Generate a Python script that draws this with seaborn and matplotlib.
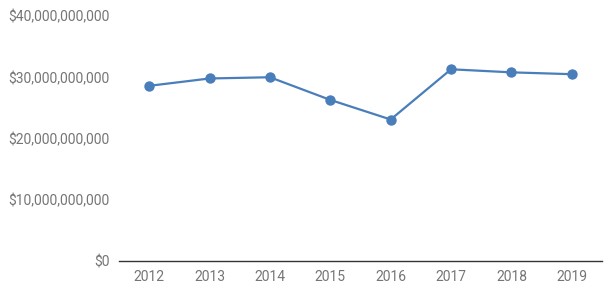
import matplotlib
matplotlib.use("Agg")
import matplotlib.pyplot as plt
import matplotlib.ticker as mticker
import seaborn as sns
import pandas as pd

years = ["2012", "2013", "2014", "2015", "2016", "2017", "2018", "2019"]
values = [28.6e9, 29.8e9, 30.0e9, 26.3e9, 23.1e9, 31.3e9, 30.8e9, 30.5e9]
y_ticks = [0, 10e9, 20e9, 30e9, 40e9]

sns.set_style("white")
plt.rcParams["font.family"] = ["Roboto", "DejaVu Sans"]

df = pd.DataFrame({"year": years, "value": values})

fig = plt.figure(figsize=(6.15, 2.94), dpi=100)
ax = fig.add_axes([119 / 615, 33 / 294, (602 - 119) / 615, (261 - 16) / 294])

sns.lineplot(data=df, x="year", y="value", ax=ax, color="#4a7ebb",
             linewidth=1.6, marker="o", markersize=7.5, markeredgewidth=0,
             sort=False)

ax.set_xlim(-0.5, len(years) - 0.5)
ax.set_ylim(0, 40e9)
ax.set_yticks(y_ticks)
ax.yaxis.set_major_formatter(mticker.FuncFormatter(lambda v, p: f"${v:,.0f}"))
ax.set_xlabel("")
ax.set_ylabel("")
for s in ["top", "right", "left"]:
    ax.spines[s].set_visible(False)
ax.spines["bottom"].set_color("#333333")
ax.spines["bottom"].set_linewidth(1.0)
ax.tick_params(axis="both", length=0, labelsize=10, labelcolor="#757575")
ax.tick_params(axis="y", pad=7)
ax.tick_params(axis="x", pad=6.5)
ax.grid(False)

fig.savefig("out.png", dpi=100)
